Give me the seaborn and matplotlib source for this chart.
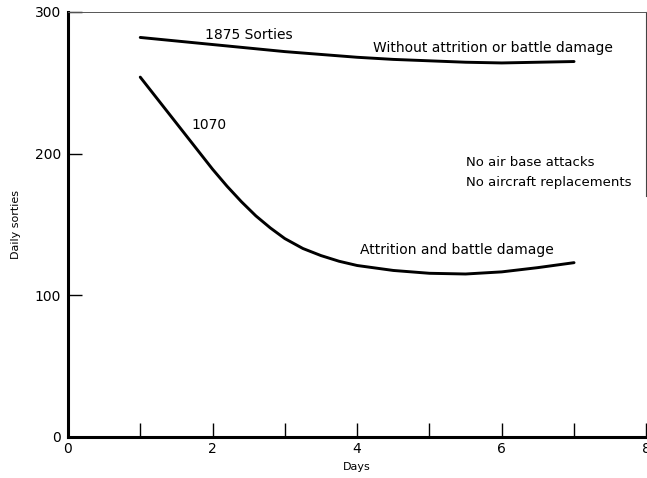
import pandas as pd
import matplotlib
matplotlib.use('Agg')
import matplotlib.pyplot as plt
import seaborn as sns
from matplotlib.ticker import MultipleLocator

days_top = [1.0, 1.5, 2.0, 2.5, 3.0, 3.5, 4.0, 4.5, 5.0, 5.5, 6.0, 6.5, 7.0]
no_attrition = [282, 279.5, 277, 274.5, 272, 270, 268, 266.5, 265.5, 264.5, 264, 264.5, 265]

days_low = [1.0, 1.2, 1.4, 1.6, 1.8, 2.0, 2.2, 2.4, 2.6, 2.8, 3.0, 3.25, 3.5, 3.75,
            4.0, 4.5, 5.0, 5.5, 6.0, 6.5, 7.0]
attrition = [254, 241, 228, 215, 202, 189, 177, 166, 156, 147.5, 140, 133, 128, 124,
             121, 117.5, 115.5, 115, 116.5, 119.5, 123]

sns.set_style('ticks')
plt.rcParams['font.family'] = ['DejaVu Sans']
plt.rcParams['text.color'] = 'black'
plt.rcParams['axes.labelcolor'] = 'black'
plt.rcParams['xtick.color'] = 'black'
plt.rcParams['ytick.color'] = 'black'

table = pd.DataFrame({
    'day': days_top + days_low,
    'sorties': no_attrition + attrition,
    'case': ['without'] * len(days_top) + ['with'] * len(days_low),
})

fig = plt.figure(figsize=(6.47, 4.78), dpi=100)
ax = fig.add_axes([0.105, 0.086, 0.894, 0.889])

sns.lineplot(data=table, x='day', y='sorties', hue='case',
             palette={'without': 'black', 'with': 'black'},
             legend=False, ax=ax, linewidth=2.1)

ax.set_xlim(0, 8)
ax.set_ylim(0, 300)
ax.set_xticks([0, 2, 4, 6, 8])
ax.xaxis.set_minor_locator(MultipleLocator(1))
ax.set_yticks([0, 100, 200, 300])
ax.tick_params(axis='both', which='both', direction='in', length=10, width=1,
               labelsize=10, bottom=True, left=True, top=False, right=False)
ax.tick_params(axis='y', pad=5)
ax.tick_params(axis='x', pad=4)
ax.set_xlabel('Days', fontsize=8, labelpad=4)
ax.set_ylabel('Daily sorties', fontsize=8, labelpad=10)

for side in ['left', 'bottom']:
    ax.spines[side].set_linewidth(2.2)
    ax.spines[side].set_color('black')
ax.spines['top'].set_linewidth(0.7)
ax.spines['top'].set_color('#555555')
ax.spines['right'].set_linewidth(0.8)
ax.spines['right'].set_color('#444444')
ax.spines['right'].set_bounds(170, 300)

ax.text(2.5, 284, '1875 Sorties', fontsize=10, ha='center', va='center')
ax.text(5.88, 274.5, 'Without attrition or battle damage', fontsize=10,
        ha='center', va='center')
ax.text(1.95, 220, '1070', fontsize=10, ha='center', va='center')
ax.text(5.5, 194, 'No air base attacks', fontsize=9.5, ha='left', va='center')
ax.text(5.5, 179.5, 'No aircraft replacements', fontsize=9.5, ha='left', va='center')
ax.text(5.38, 132, 'Attrition and battle damage', fontsize=10,
        ha='center', va='center')

fig.savefig('out.png', dpi=100)
